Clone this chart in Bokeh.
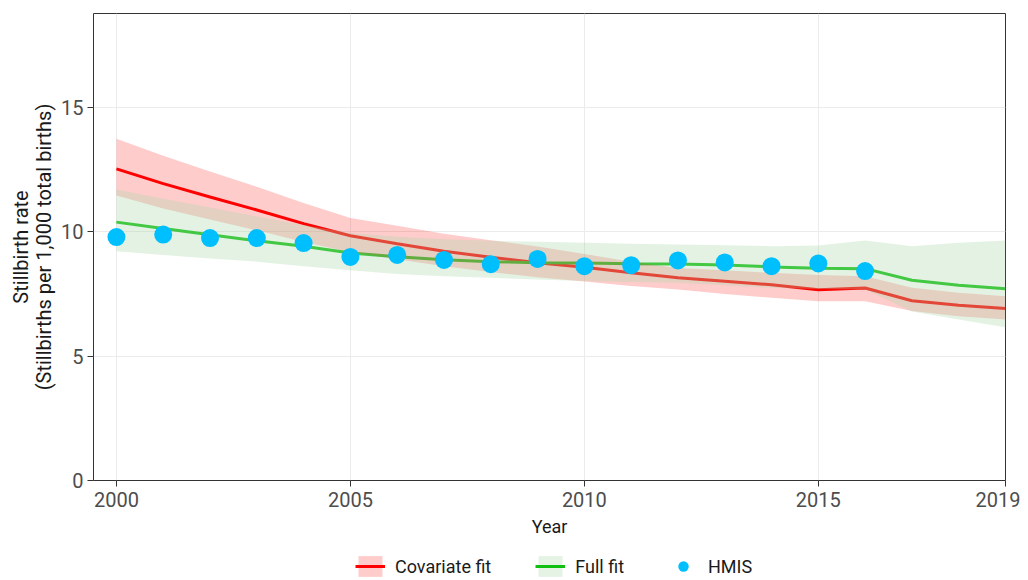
from bokeh.plotting import figure
from bokeh.layouts import column
from bokeh.models import Range1d, FixedTicker, Legend, LegendItem
from bokeh.embed import file_html
from bokeh.resources import INLINE

years = list(range(2000, 2020))
cov_mid = [12.53, 11.94, 11.40, 10.88, 10.33, 9.84, 9.52, 9.22, 8.98, 8.76, 8.58, 8.35, 8.15, 8.01, 7.87, 7.67, 7.74, 7.23, 7.05, 6.92]
cov_lo = [11.46, 10.94, 10.50, 10.06, 9.59, 9.18, 8.90, 8.62, 8.38, 8.17, 8.00, 7.82, 7.68, 7.50, 7.35, 7.21, 7.21, 6.82, 6.61, 6.47]
cov_hi = [13.74, 13.06, 12.43, 11.81, 11.16, 10.56, 10.24, 9.92, 9.66, 9.41, 9.11, 8.80, 8.55, 8.45, 8.35, 8.26, 8.21, 7.75, 7.55, 7.41]
full_mid = [10.39, 10.13, 9.88, 9.64, 9.42, 9.15, 9.00, 8.88, 8.80, 8.76, 8.75, 8.72, 8.71, 8.67, 8.59, 8.54, 8.52, 8.05, 7.85, 7.71]
full_lo = [9.22, 9.07, 8.93, 8.80, 8.62, 8.45, 8.30, 8.21, 8.15, 8.08, 8.02, 7.98, 7.95, 7.85, 7.75, 7.70, 7.68, 6.80, 6.47, 6.16]
full_hi = [11.70, 11.33, 10.98, 10.62, 10.27, 9.95, 9.80, 9.70, 9.64, 9.60, 9.56, 9.52, 9.49, 9.46, 9.42, 9.45, 9.65, 9.42, 9.56, 9.65]
hmis_years = list(range(2000, 2017))
hmis = [9.79, 9.89, 9.75, 9.75, 9.55, 8.99, 9.07, 8.87, 8.70, 8.91, 8.62, 8.66, 8.85, 8.77, 8.62, 8.73, 8.42]
x_ticks = [2000, 2005, 2010, 2015, 2019]
y_ticks = [0, 5, 10, 15]
legend_labels = ["Covariate fit", "Full fit", "HMIS"]

FONT = "Roboto"
RED = "#ff0000"
GREEN = "#10c010"
GREEN_FILL = "#a9d7a9"
BLUE = "#00bfff"

p = figure(frame_width=912, frame_height=467,
           x_range=Range1d(1999.51, 2019.0), y_range=Range1d(0, 18.78),
           output_backend="svg", toolbar_location=None,
           min_border_left=93, min_border_top=13, min_border_right=15, min_border_bottom=66,
           background_fill_color="white", border_fill_color="white")

p.outline_line_color = "#333333"
p.outline_line_width = 1
p.xgrid.grid_line_color = "#ebebeb"
p.ygrid.grid_line_color = "#ebebeb"
p.xaxis.ticker = FixedTicker(ticks=x_ticks)
p.yaxis.ticker = FixedTicker(ticks=y_ticks)
p.xgrid.ticker = FixedTicker(ticks=x_ticks)
p.ygrid.ticker = FixedTicker(ticks=y_ticks)

for ax in (p.xaxis[0], p.yaxis[0]):
    ax.axis_line_color = None
    ax.major_tick_line_color = "#333333"
    ax.major_tick_out = 6
    ax.major_tick_in = 0
    ax.minor_tick_line_color = None
    ax.major_label_text_font = FONT
    ax.major_label_text_font_size = "20px"
    ax.major_label_text_color = "#4d4d4d"
    ax.axis_label_text_font = FONT
    ax.axis_label_text_font_style = "normal"
    ax.axis_label_text_color = "#1a1a1a"

p.xaxis.axis_label = "Year"
p.xaxis.axis_label_text_font_size = "18px"
p.yaxis.axis_label = "Stillbirth rate\n(Stillbirths per 1,000 total births)"
p.yaxis.axis_label_text_font_size = "20px"
p.yaxis.axis_label_text_line_height = 0.95
p.xaxis.major_label_standoff = 5
p.xaxis.axis_label_standoff = 6
p.yaxis.major_label_standoff = 4
p.yaxis.axis_label_standoff = 2

p.line(years, cov_mid, line_color=RED, line_width=3)
p.line(years, full_mid, line_color=GREEN, line_width=3)
p.varea(x=years, y1=cov_lo, y2=cov_hi, fill_color=RED, fill_alpha=0.2)
p.varea(x=years, y1=full_lo, y2=full_hi, fill_color=GREEN_FILL, fill_alpha=0.33)
p.scatter(hmis_years, hmis, size=18, marker="circle", fill_color=BLUE, line_color=None)

# legend strip below the chart (its renderers hold the same series, outside its view)
q = figure(frame_width=912, frame_height=33, x_range=Range1d(0, 1), y_range=Range1d(0, 1),
           output_backend="svg", toolbar_location=None,
           x_axis_type=None, y_axis_type=None,
           min_border_left=93, min_border_right=15, min_border_top=0, min_border_bottom=0,
           background_fill_color="white", border_fill_color="white")
q.outline_line_color = None
q.xgrid.visible = False
q.ygrid.visible = False
lr = q.line(years, cov_mid, line_color=RED, line_width=3)
lg = q.line(years, full_mid, line_color=GREEN, line_width=3)
br = q.varea(x=years, y1=cov_lo, y2=cov_hi, fill_color=RED, fill_alpha=0.2)
bg = q.varea(x=years, y1=full_lo, y2=full_hi, fill_color="#c6e5c6", fill_alpha=0.45)
pt = q.scatter(hmis_years, hmis, size=18, marker="circle", fill_color=BLUE, line_color=None)

item_renderers = [[br, lr], [bg, lg], [pt]]
legend = Legend(items=[LegendItem(label=lab, renderers=r) for lab, r in zip(legend_labels, item_renderers)],
                orientation="horizontal", location=(262, 0))
legend.label_text_font = FONT
legend.label_text_font_size = "18px"
legend.label_text_color = "#1a1a1a"
legend.border_line_color = None
legend.background_fill_alpha = 0
legend.glyph_width = 30
legend.glyph_height = 26
legend.label_standoff = 10
legend.spacing = 44
legend.padding = 0
legend.margin = 0
q.add_layout(legend)

open("out.html", "w").write(file_html(column(p, q, spacing=0), INLINE))
